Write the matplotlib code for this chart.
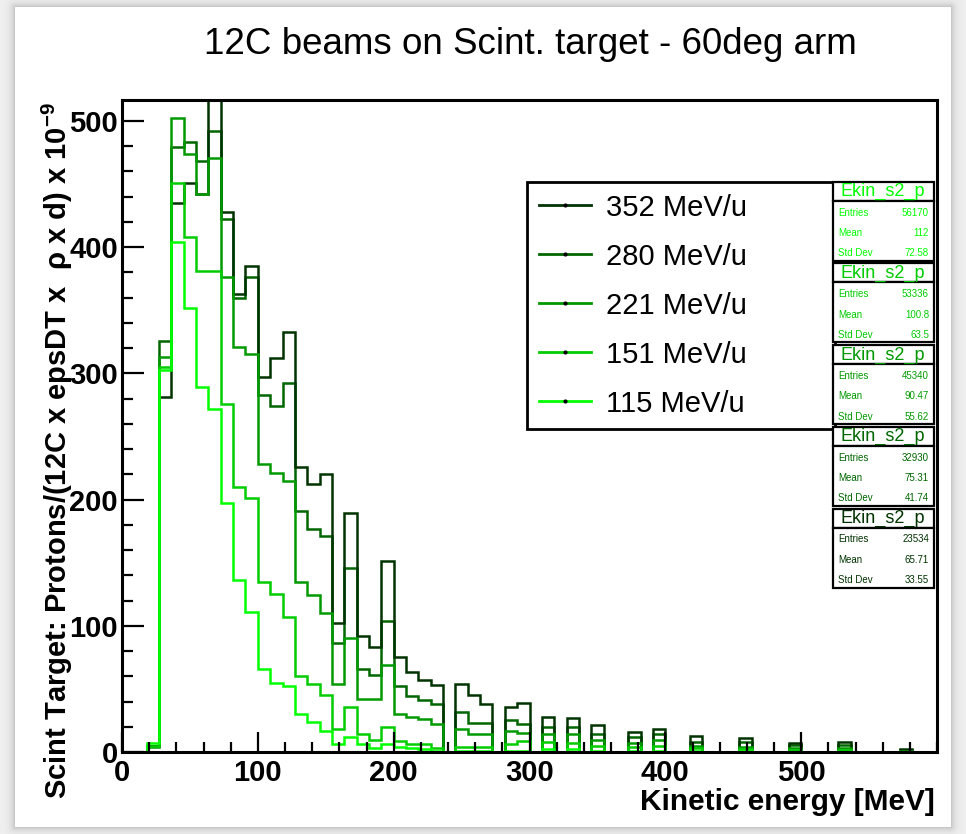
import numpy as np
import matplotlib.pyplot as plt
from matplotlib.lines import Line2D
from matplotlib.patches import Rectangle

plt.rcParams['font.family'] = ['Liberation Sans', 'DejaVu Sans']
plt.rcParams['mathtext.fontset'] = 'custom'
plt.rcParams['mathtext.rm'] = 'Liberation Sans'
plt.rcParams['mathtext.bf'] = 'Liberation Sans:bold'

W, H = 966, 834

# 66 bins from 0 to 600 MeV
edges = np.linspace(0, 600, 67)

beams = ['352 MeV/u', '280 MeV/u', '221 MeV/u', '151 MeV/u', '115 MeV/u']
colors = ['#003300', '#006600', '#009900', '#00cc00', '#00ff00']

h352 = [0, 0, 5, 281, 435, 451, 442, 545, 428, 363, 385, 297, 312, 333, 226, 212, 220,
        102, 189, 92, 83, 151, 75, 63, 57, 53, 0, 54, 45, 38, 0, 36, 39, 0, 28, 0, 27,
        0, 21, 0, 0, 16, 0, 18, 0, 0, 13, 0, 0, 0, 11, 0, 0, 0, 7.4, 0, 0, 0, 8, 0, 0,
        0, 0, 2.6, 0, 0]
h280 = [0, 0, 5, 326, 479, 483, 468, 492, 422, 360, 376, 283, 274, 292, 191, 177, 171,
        86, 146, 66, 61, 104, 52, 44, 41, 38, 0, 32, 23, 23, 0, 25, 22, 0, 20, 0, 20,
        0, 14.5, 0, 0, 12, 0, 14, 0, 0, 8, 0, 0, 0, 8, 0, 0, 0, 5.3, 0, 0, 0, 5.5, 0, 0,
        0, 0, 1.5, 0, 0]
h221 = [0, 0, 4, 313, 502, 474, 442, 471, 376, 321, 315, 228, 221, 215, 135, 124, 110,
        54, 90, 42, 42, 69, 30, 28, 26, 22, 0, 18, 14, 14, 0, 17, 15, 0, 14, 0, 14.5,
        0, 9.3, 0, 0, 7.2, 0, 9.3, 0, 0, 5, 0, 0, 0, 4, 0, 0, 0, 3.5, 0, 0, 0, 3.5, 0, 0,
        0, 0, 0.8, 0, 0]
h151 = [0, 0, 5, 305, 451, 408, 381, 381, 276, 210, 201, 135, 125, 107, 60, 54, 45,
        18.5, 36, 14.6, 9.5, 20, 9, 6, 6.5, 3, 0, 4, 4, 4, 0, 6, 9, 0, 8, 0, 7,
        0, 4.5, 0, 0, 4, 0, 4.5, 0, 0, 3, 0, 0, 0, 2, 0, 0, 0, 1.5, 0, 0, 0, 1.5, 0, 0,
        0, 0, 0.3, 0, 0]
h115 = [0, 0, 7, 303, 404, 352, 289, 272, 197, 136, 111, 66, 55, 52, 30, 24, 17,
        6.7, 11.5, 6.7, 3, 6, 4, 3, 2, 1, 0, 1, 1, 1, 0, 1, 1, 0, 2, 0, 2,
        0, 1, 0, 0, 1, 0, 1, 0, 0, 0.5, 0, 0, 0, 0.5, 0, 0, 0, 0.3, 0, 0, 0, 0.3, 0, 0,
        0, 0, 0, 0, 0]
hists = [h352, h280, h221, h151, h115]

stat_entries = ['56170', '53336', '45340', '32930', '23534']
stat_mean = ['112', '100.8', '90.47', '75.31', '65.71']
stat_std = ['72.58', '63.5', '55.62', '41.74', '33.55']
stat_colors = colors[::-1]


def fx(px):
    return px / W


def fy(py):
    return 1 - py / H


fig = plt.figure(figsize=(W / 100, H / 100), dpi=100)

# grey surround with a soft shadow around the white canvas
bg = fig.add_axes([0, 0, 1, 1], zorder=-10)
bg.set_axis_off()
yy, xx = np.mgrid[0:H, 0:W]
cx0, cx1, cy0, cy1 = 15, 950, 7, 826
dx = np.maximum(np.maximum(cx0 - xx, xx - cx1), 0)
dy = np.maximum(np.maximum(cy0 - yy, yy - cy1), 0)
d = np.hypot(dx, dy)
shade = 0.94 - 0.2 * np.exp(-d / 4.0)
shade[d == 0] = 1.0
bg.imshow(shade, cmap='gray', vmin=0, vmax=1, extent=[0, W, H, 0], aspect='auto')
bg.set_xlim(0, W)
bg.set_ylim(H, 0)

ax = fig.add_axes([fx(122), fy(752), fx(937) - fx(122), fy(100) - fy(752)])

# 280 first: its maximum sets the y range
for i in [1, 0, 2, 3, 4]:
    ax.stairs(hists[i], edges, color=colors[i], lw=1.8)

ax.set_xlim(0, 600)
ax.set_ylim(0, 492 * 1.05)
ax.set_xticks(np.arange(0, 600, 100))
ax.set_xticks(np.arange(0, 601, 20), minor=True)
ax.set_yticks(np.arange(0, 501, 100))
ax.set_yticks(np.arange(0, 517, 20), minor=True)
ax.tick_params(axis='x', which='major', direction='in', length=14.4, width=1.6,
               labelsize=21, pad=5)
ax.tick_params(axis='x', which='minor', direction='in', length=7.2, width=1.6)
ax.tick_params(axis='y', which='major', direction='in', length=15.8, width=1.6,
               labelsize=21, pad=3)
ax.tick_params(axis='y', which='minor', direction='in', length=7.9, width=1.6)
for lab in ax.get_xticklabels() + ax.get_yticklabels():
    lab.set_fontweight('bold')
for sp in ax.spines.values():
    sp.set_linewidth(2.2)

fig.text(fx(530), fy(45), '12C beams on Scint. target - 60deg arm',
         ha='center', va='center', fontsize=26.5)
fig.text(fx(935), fy(802), 'Kinetic energy [MeV]', ha='right', va='center',
         fontsize=21.5, fontweight='bold')
fig.text(fx(57), fy(102), r'Scint Target: Protons/(12C x epsDT x  ρ x d) x 10$^{\mathbf{-9}}$',
         ha='center', va='top', rotation=90, fontsize=21, fontweight='bold')

handles = [Line2D([], [], color=c, lw=2, marker='o', ms=2, mfc='k', mec='k')
           for c in colors]
leg = fig.legend(handles, beams, loc='upper left',
                 bbox_to_anchor=(fx(527), fy(182), fx(835) - fx(527), 0.0),
                 mode='expand', fontsize=21, fancybox=False, edgecolor='k',
                 framealpha=1, borderpad=0.4, labelspacing=0.72,
                 handlelength=1.8, handletextpad=0.5, borderaxespad=0)
leg.get_frame().set_linewidth(2)

# stat boxes, one per histogram
for k in range(5):
    top = 181.7 + 81.7 * k
    c = stat_colors[k]
    fig.patches.append(Rectangle((fx(833), fy(top + 19)), fx(934) - fx(833), 19 / H,
                                 transform=fig.transFigure, fc='white', ec='k',
                                 lw=1.6, zorder=6))
    fig.patches.append(Rectangle((fx(833), fy(top + 79)), fx(934) - fx(833), 60 / H,
                                 transform=fig.transFigure, fc='white', ec='k',
                                 lw=1.6, zorder=6))
    fig.text(fx(883), fy(top + 10), 'Ekin_s2_p', ha='center', va='center',
             fontsize=13, color=c, zorder=7)
    rows = [('Entries', stat_entries[k]), ('Mean', stat_mean[k]), ('Std Dev', stat_std[k])]
    for r, (name, val) in enumerate(rows):
        yr = top + 31 + 20.3 * r
        fig.text(fx(838), fy(yr), name, ha='left', va='center', fontsize=7,
                 color=c, zorder=7)
        fig.text(fx(929), fy(yr), val, ha='right', va='center', fontsize=7,
                 color=c, zorder=7)

fig.savefig('out.png', dpi=100)
